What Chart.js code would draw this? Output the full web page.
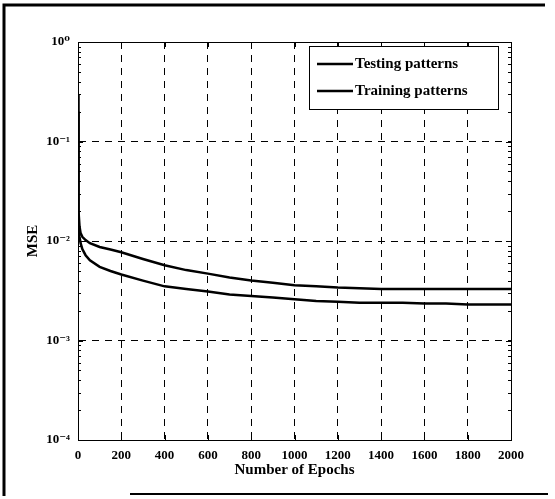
<!DOCTYPE html>
<html>
<head>
<meta charset="utf-8">
<title>MSE vs Epochs</title>
<script src="https://cdn.jsdelivr.net/npm/chart.js@4.4.1/dist/chart.umd.min.js"></script>
<style>
    html, body { margin: 0; padding: 0; background: #fff; }
    #wrap { width: 555px; height: 499px; }
</style>
</head>
<body>
<div id="wrap"><canvas id="mseChart" width="555" height="499"></canvas></div>
<script>
// Epoch sample points and MSE for each pattern set
const epochs = [0, 1, 2, 4, 7, 12, 20, 35, 55, 100, 150, 200, 300, 400, 500, 600, 700,
    800, 900, 1000, 1100, 1200, 1300, 1400, 1500, 1600, 1700, 1800, 1900, 2000];
const testingMse = [0.30, 0.09, 0.04, 0.02, 0.014, 0.012, 0.011, 0.0102, 0.0095, 0.0087,
    0.0082, 0.0077, 0.0066, 0.0057, 0.0051, 0.0047, 0.0043, 0.0040, 0.0038, 0.0036,
    0.0035, 0.0034, 0.00335, 0.0033, 0.0033, 0.0033, 0.0033, 0.0033, 0.0033, 0.0033];
const trainingMse = [0.20, 0.05, 0.025, 0.015, 0.011, 0.0095, 0.0083, 0.0072, 0.0064, 0.0055,
    0.0050, 0.0046, 0.0040, 0.0035, 0.0033, 0.0031, 0.0029, 0.0028, 0.0027, 0.0026,
    0.0025, 0.00245, 0.0024, 0.0024, 0.0024, 0.00235, 0.00235, 0.0023, 0.0023, 0.0023];

const seriesNames = ['Testing patterns', 'Training patterns'];
const xTickStep = 200;
const yTickValues = [1e-4, 1e-3, 1e-2, 1e-1, 1];
const yTickLabels = ['10\u207B\u2074', '10\u207B\u00B3', '10\u207B\u00B2', '10\u207B\u00B9', '10\u2070'];

const serif = '"Liberation Serif", "DejaVu Serif", serif';

function toPoints(ys) {
    return epochs.map((e, i) => ({ x: e, y: ys[i] }));
}

// Box around the axes with inward ticks, the legend box and the outer figure lines
const framePlugin = {
    id: 'frame',
    afterDraw(chart) {
        const ctx = chart.ctx;
        const a = chart.chartArea;
        const xs = chart.scales.x, ys = chart.scales.y;
        ctx.save();
        ctx.strokeStyle = '#000';
        ctx.lineWidth = 1;
        ctx.setLineDash([]);
        ctx.strokeRect(a.left + 0.5, a.top + 0.5, a.right - a.left, a.bottom - a.top);

        // inward tick marks
        ctx.beginPath();
        xs.ticks.forEach(t => {
            const px = Math.round(xs.getPixelForValue(t.value)) + 0.5;
            ctx.moveTo(px, a.bottom); ctx.lineTo(px, a.bottom - 5);
            ctx.moveTo(px, a.top); ctx.lineTo(px, a.top + 5);
        });
        for (let d = 0; d < yTickValues.length - 1; d++) {
            for (let m = 1; m < 10; m++) {
                const py = Math.round(ys.getPixelForValue(yTickValues[d] * m)) + 0.5;
                const len = m === 1 ? 5 : 3;
                ctx.moveTo(a.left, py); ctx.lineTo(a.left + len, py);
                ctx.moveTo(a.right, py); ctx.lineTo(a.right - len, py);
            }
        }
        ctx.stroke();

        // figure border
        ctx.lineWidth = 3;
        ctx.beginPath();
        ctx.moveTo(4, 496);
        ctx.lineTo(4, 5);
        ctx.lineTo(545, 5);
        ctx.stroke();
        ctx.lineWidth = 2;
        ctx.beginPath();
        ctx.moveTo(130, 494);
        ctx.lineTo(548, 494);
        ctx.stroke();

        // legend
        const lx = a.right - 202, ly = a.top + 4, lw = 189, lh = 63;
        ctx.fillStyle = '#fff';
        ctx.fillRect(lx, ly, lw, lh);
        ctx.lineWidth = 1;
        ctx.strokeRect(lx + 0.5, ly + 0.5, lw, lh);
        ctx.font = 'bold 15px ' + serif;
        ctx.textBaseline = 'middle';
        ctx.fillStyle = '#000';
        chart.data.datasets.forEach((ds, i) => {
            const y = ly + 18 + i * 27;
            ctx.lineWidth = 2.5;
            ctx.beginPath();
            ctx.moveTo(lx + 8, y);
            ctx.lineTo(lx + 44, y);
            ctx.stroke();
            ctx.fillText(ds.label, lx + 46, y);
        });
        ctx.restore();
    }
};

const ctx = document.getElementById('mseChart').getContext('2d');
const mseChart = new Chart(ctx, {
    type: 'line',
    data: {
        datasets: [{
            label: seriesNames[0],
            data: toPoints(testingMse),
            borderColor: '#000',
            borderWidth: 2.5,
            pointRadius: 0,
            fill: false
        }, {
            label: seriesNames[1],
            data: toPoints(trainingMse),
            borderColor: '#000',
            borderWidth: 2.5,
            pointRadius: 0,
            fill: false
        }]
    },
    options: {
        responsive: false,
        animation: false,
        layout: {
            padding: { left: 20, right: 44, top: 42, bottom: 16 }
        },
        plugins: {
            legend: { display: false },
            tooltip: { enabled: false }
        },
        scales: {
            x: {
                type: 'linear',
                min: 0,
                max: 2000,
                afterFit(scale) { scale.height = 43; },
                ticks: {
                    stepSize: xTickStep,
                    color: '#000',
                    padding: 8,
                    maxRotation: 0,
                    font: { family: serif, weight: 'bold', size: 13 },
                    callback: value => String(value)
                },
                grid: {
                    color: '#000',
                    lineWidth: 1,
                    drawTicks: false
                },
                border: { display: true, color: '#000', dash: [7, 6] },
                title: {
                    display: true,
                    text: 'Number of Epochs',
                    color: '#000',
                    padding: { top: 2 },
                    font: { family: serif, weight: 'bold', size: 15 }
                }
            },
            y: {
                type: 'logarithmic',
                min: 1e-4,
                max: 1,
                afterFit(scale) { scale.width = 58; },
                afterBuildTicks(scale) {
                    scale.ticks = yTickValues.map(v => ({ value: v }));
                },
                ticks: {
                    color: '#000',
                    padding: 8,
                    font: { family: serif, weight: 'bold', size: 13 },
                    callback: function(value) {
                        const i = yTickValues.findIndex(v => Math.abs(v - value) / v < 1e-6);
                        return i >= 0 ? yTickLabels[i] : '';
                    }
                },
                grid: {
                    color: '#000',
                    lineWidth: 1,
                    drawTicks: false
                },
                border: { display: true, color: '#000', dash: [7, 6] },
                title: {
                    display: true,
                    text: 'MSE',
                    color: '#000',
                    padding: { bottom: 4 },
                    font: { family: serif, weight: 'bold', size: 15 }
                }
            }
        }
    },
    plugins: [framePlugin]
});
</script>
</body>
</html>
